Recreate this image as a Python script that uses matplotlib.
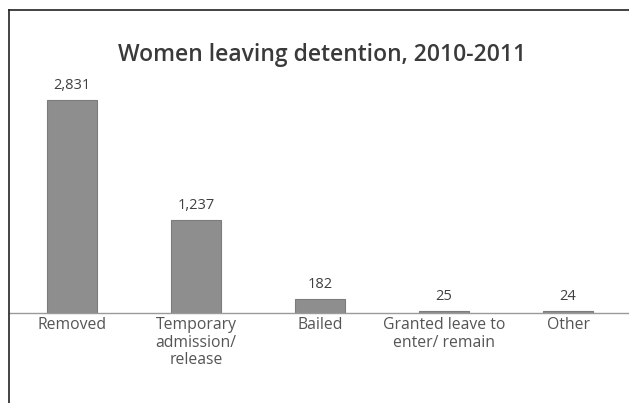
import matplotlib
matplotlib.use("Agg")
import matplotlib.pyplot as plt
from matplotlib.lines import Line2D

categories = ["Removed", "Temporary\nadmission/\nrelease", "Bailed",
              "Granted leave to\nenter/ remain", "Other"]
values = [2831, 1237, 182, 25, 24]
value_labels = ["2,831", "1,237", "182", "25", "24"]
title = "Women leaving detention, 2010-2011"

plt.rcParams['font.family'] = ['Open Sans', 'DejaVu Sans']

W, H = 629, 403
fig = plt.figure(figsize=(W / 100, H / 100), dpi=100)
fig.patch.set_facecolor("white")

ax_left = 9 / W
ax_bottom = (H - 313) / H
ax_top = (H - 10) / H
ax = fig.add_axes([ax_left, ax_bottom, 1 - ax_left, ax_top - ax_bottom])

x = list(range(len(categories)))
ax.bar(x, values, width=0.41, color="#8e8e8e", edgecolor="#7c7c7c", linewidth=0.8, zorder=2)

ax.set_xlim(-63 / 124, (W - 72) / 124)
ax.set_ylim(0, 2831 * 303 / 213)

for xi, v, lab in zip(x, values, value_labels):
    ax.annotate(lab, (xi, v), xytext=(0, 5), textcoords="offset points",
                ha="center", va="bottom", fontsize=10.5, color="#404040")

ax.set_xticks(x)
ax.set_xticklabels(categories, fontsize=11.3, color="#555555", linespacing=1.13)
ax.tick_params(axis="x", length=0, pad=3)
ax.set_yticks([])

ax.spines["right"].set_visible(False)
ax.spines["left"].set_visible(False)
ax.spines["top"].set_color("#222222")
ax.spines["top"].set_linewidth(1.2)
ax.spines["bottom"].set_color("#9a9a9a")
ax.spines["bottom"].set_linewidth(1.0)

# left border of the frame, running to the bottom of the image
fig.add_artist(Line2D([ax_left, ax_left], [0, ax_top], transform=fig.transFigure,
                      color="#222222", linewidth=1.2))

fig.text(322 / W, (H - 55) / H, title, ha="center", va="center",
         fontsize=16.5, fontweight="semibold", color="#3a3a3a")

fig.savefig("out.png", dpi=100, facecolor="white")
